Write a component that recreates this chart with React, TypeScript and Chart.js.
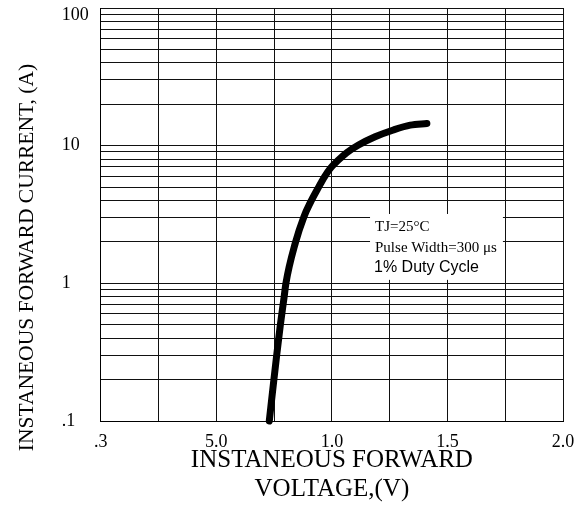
import React, { useEffect, useRef } from 'react';
import { Chart, registerables } from 'chart.js';

Chart.register(...registerables);

// Forward characteristic
const voltage = [0.729, 0.749, 0.761, 0.777, 0.793, 0.801, 0.842, 0.879, 0.905, 0.942, 0.968, 0.993, 1.028, 1.064, 1.115, 1.187, 1.266, 1.339, 1.411];
const current = [0.1, 0.2, 0.3, 0.5, 0.79, 1.0, 1.97, 3.05, 3.81, 4.98, 5.94, 6.84, 7.86, 8.88, 10.1, 11.6, 13.0, 14.1, 14.5];

// Axis tick values / labels
const xTickValues = [0, 0.5, 1.0, 1.5, 2.0];
const xTickLabels = ['.3', '5.0', '1.0', '1.5', '2.0'];
const yTickValues = [0.1, 1, 10, 100];
const yTickLabels = ['.1', '1', '10', '100'];
const yDecades = [0.1, 1, 10];
const yMultipliers = [1, 2, 3, 4, 5, 6, 7, 8, 9];

const yTitle = 'INSTANEOUS FORWARD CURRENT, (A)';
const xTitle = ['INSTANEOUS FORWARD', 'VOLTAGE,(V)'];
const noteLines = ['TJ=25°C', 'Pulse Width=300 μs', '1% Duty Cycle'];
const noteBox = { x0: 1.165, x1: 1.74, yTop: 3.19, yBottom: 1.06 };

const serif = "'Liberation Serif', 'Times New Roman', serif";
const sans = "'Liberation Sans', Arial, sans-serif";

export default function App() {
  const ref = useRef<HTMLCanvasElement>(null);

  useEffect(() => {
    const canvas = ref.current;
    if (!canvas) return;

    const yGrid: number[] = [];
    yDecades.forEach((d) => yMultipliers.forEach((m) => yGrid.push(+(d * m).toPrecision(3))));
    yGrid.push(100);

    const notePlugin = {
      id: 'noteBox',
      afterDraw(chart: any) {
        const { ctx, scales } = chart;
        const x = scales.x;
        const y = scales.y;
        const left = x.getPixelForValue(noteBox.x0);
        const right = x.getPixelForValue(noteBox.x1);
        const top = y.getPixelForValue(noteBox.yTop);
        const bottom = y.getPixelForValue(noteBox.yBottom);
        ctx.save();
        ctx.fillStyle = '#fff';
        ctx.fillRect(left, top, right - left, bottom - top);
        ctx.fillStyle = '#000';
        ctx.textBaseline = 'middle';
        ctx.textAlign = 'left';
        ctx.font = `15px ${serif}`;
        ctx.fillText(noteLines[0], left + 5, top + 13);
        ctx.fillText(noteLines[1], left + 5, top + 34);
        ctx.font = `16px ${sans}`;
        ctx.fillText(noteLines[2], left + 4, top + 54);
        ctx.restore();
      },
    };

    const chart = new Chart(canvas, {
      type: 'line',
      data: {
        datasets: [
          {
            data: voltage.map((v, i) => ({ x: v, y: current[i] })),
            borderColor: '#000',
            borderWidth: 7,
            pointRadius: 0,
            cubicInterpolationMode: 'monotone',
            borderCapStyle: 'round',
            borderJoinStyle: 'round',
            fill: false,
            clip: 12,
          } as any,
        ],
      },
      options: {
        animation: false,
        responsive: true,
        maintainAspectRatio: false,
        layout: { padding: { top: 8, right: 19, bottom: 0, left: 0 } },
        plugins: {
          legend: { display: false },
          tooltip: { enabled: false },
          title: {
            display: true,
            position: 'left',
            text: yTitle,
            color: '#000',
            font: { family: serif, size: 21.5, weight: 'normal', lineHeight: 1.2 },
            padding: { top: 14, bottom: 22 },
          },
        },
        scales: {
          x: {
            type: 'linear',
            min: 0,
            max: 2,
            ticks: {
              stepSize: 0.25,
              autoSkip: false,
              maxRotation: 0,
              padding: 10,
              color: '#000',
              font: { family: serif, size: 18 },
              callback: (v: any) => {
                const i = xTickValues.findIndex((t) => Math.abs(t - Number(v)) < 1e-6);
                return i >= 0 ? xTickLabels[i] : '';
              },
            },
            grid: { color: '#111', lineWidth: 1, drawTicks: false },
            border: { color: '#000', width: 1 },
            title: {
              display: true,
              text: xTitle,
              color: '#000',
              font: { family: serif, size: 25, lineHeight: '29px' },
              padding: { top: 0, bottom: 3 },
            },
            afterFit: (s: any) => {
              s.height = 86;
              s.paddingLeft = 0;
              s.paddingRight = 0;
            },
          },
          y: {
            type: 'logarithmic',
            min: 0.1,
            max: 100,
            afterBuildTicks: (s: any) => {
              s.ticks = yGrid.map((v) => ({ value: v }));
            },
            ticks: {
              autoSkip: false,
              crossAlign: 'far',
              padding: 0,
              color: '#000',
              font: { family: serif, size: 18, lineHeight: '14px' },
              callback: (v: any) => {
                const i = yTickValues.findIndex((t) => Math.abs(t - Number(v)) < 1e-9);
                if (i < 0) return '';
                return i === yTickValues.length - 1 ? ['', yTickLabels[i]] : yTickLabels[i];
              },
            },
            grid: { color: '#111', lineWidth: 1, drawTicks: false },
            border: { color: '#000', width: 1 },
            afterFit: (s: any) => {
              s.width = 39;
              s.paddingTop = 0;
              s.paddingBottom = 0;
            },
          },
        },
      } as any,
      plugins: [notePlugin],
    });

    return () => chart.destroy();
  }, []);

  return (
    <div style={{ position: 'fixed', left: 0, top: 0, width: 582, height: 507, background: '#fff' }}>
      <canvas ref={ref} />
    </div>
  );
}
